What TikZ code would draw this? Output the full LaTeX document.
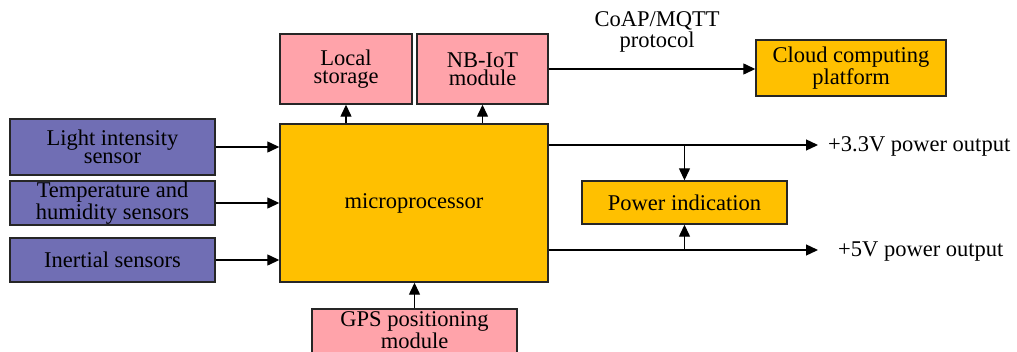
\documentclass[tikz,border=0pt]{standalone}
\usepackage{fontspec}
\setmainfont{Liberation Serif}
\usetikzlibrary{arrows.meta,calc}
\definecolor{sensorblue}{RGB}{112,110,180}
\definecolor{modpink}{RGB}{255,163,170}
\definecolor{coregold}{RGB}{255,192,0}
\begin{document}
\begin{tikzpicture}[x=1pt,y=-1pt,
  font=\fontsize{22.5}{18}\selectfont,
  blk/.style={draw=black!85, line width=1.4pt, align=center, inner sep=0pt},
  sensor/.style={blk, fill=sensorblue, minimum width=205pt},
  module/.style={blk, fill=modpink},
  core/.style={blk, fill=coregold},
  arr/.style={-{Triangle[length=12pt,width=11pt]}, line width=1.3pt}]
\useasboundingbox (0,0) rectangle (1017,351);

% sensors
\node[sensor, minimum height=56pt] (light) at (112.5,147) {Light intensity\\sensor};
\node[sensor, minimum height=44pt] (temp)  at (112.5,203) {Temperature and\\humidity sensors};
\node[sensor, minimum height=44pt] (inert) at (112.5,260) {Inertial sensors};

% processor and peripherals
\node[core, minimum width=268pt, minimum height=158pt] (micro) at (414,203) {microprocessor};
\node[module, minimum width=132pt, minimum height=70pt] (store) at (346,69) {Local\\storage};
\node[module, minimum width=131pt, minimum height=70pt] (nbiot) at (482.5,69) {NB-IoT\\module};
\node[core, minimum width=190pt, minimum height=56pt] (cloud) at (851,68) {Cloud computing\\platform};
\node[align=center, inner sep=0pt] (proto) at (657,32) {CoAP/MQTT\\protocol};
\node[core, minimum width=205pt, minimum height=43pt] (pind) at (684.5,202.5) {Power indication};
\node[module, minimum width=205pt, minimum height=62pt] (gps) at (414.5,340) {};
\node[align=center, inner sep=0pt] (gpstext) at (414.5,330) {GPS positioning\\module};

% power outputs
\coordinate (o33) at (818,145);
\coordinate (o5) at (818,250);
\node[anchor=base west, inner sep=0pt] (t33) at (828,151) {+3.3V power output};
\node[anchor=base west, inner sep=0pt] (t5) at (838,256) {+5V power output};

% connectors
\draw[arr] (light.east) -- (light.east -| micro.west);
\draw[arr] (temp.east) -- (temp.east -| micro.west);
\draw[arr] (inert.east) -- (inert.east -| micro.west);
\draw[arr] (micro.north -| store.south) -- (store.south);
\draw[arr] (micro.north -| nbiot.south) -- (nbiot.south);
\draw[arr] (nbiot.east) -- (nbiot.east -| cloud.west);
\draw[arr] (micro.east |- o33) -- (o33);
\draw[arr] (micro.east |- o5) -- (o5);
\draw[arr] (pind.north |- o33) -- (pind.north);
\draw[arr] (pind.south |- o5) -- (pind.south);
\draw[arr] (gps.north) -- (gps.north |- micro.south);
\end{tikzpicture}
\end{document}
